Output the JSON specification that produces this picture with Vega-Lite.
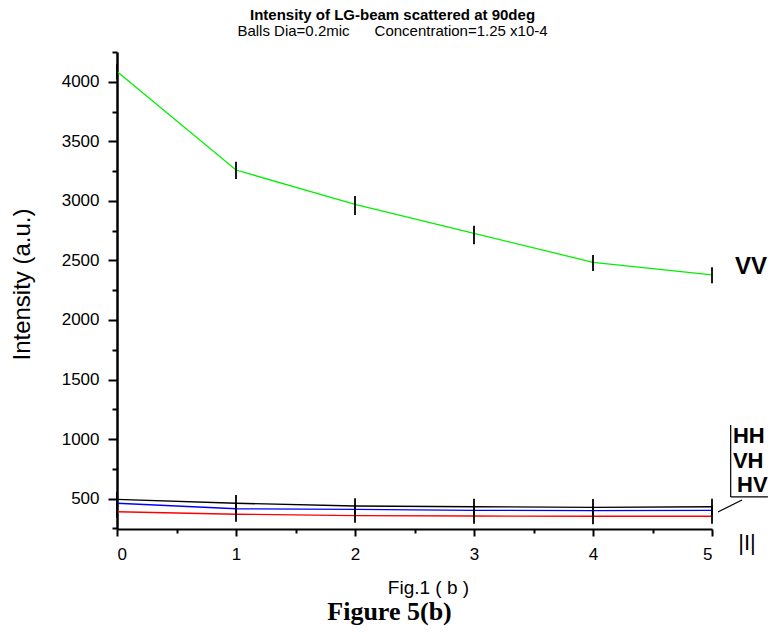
{
  "$schema": "https://vega.github.io/schema/vega-lite/v6.json",
  "autosize": "none",
  "width": 595,
  "height": 477,
  "padding": {"left": 117, "top": 52, "right": 60, "bottom": 103},
  "background": "white",
  "config": {"view": {"stroke": null}, "font": "Liberation Sans", "axis": {"grid": false}},
  "title": {
    "text": "Intensity of LG-beam scattered at 90deg",
    "subtitle": "Balls Dia=0.2mic\u00a0\u00a0\u00a0\u00a0\u00a0\u00a0Concentration=1.25 x10-4",
    "anchor": "middle",
    "dx": -22,
    "offset": 12,
    "font": "Liberation Sans",
    "fontSize": 15,
    "fontWeight": "bold",
    "color": "black",
    "subtitleFont": "Liberation Sans",
    "subtitleFontSize": 15,
    "subtitleColor": "black",
    "subtitlePadding": 1
  },
  "datasets": {
    "pts": [
      {"series": "VV", "x": 0, "y": 4086, "lo": 4021, "hi": 4149},
      {"series": "VV", "x": 1, "y": 3259, "lo": 3184, "hi": 3329},
      {"series": "VV", "x": 2, "y": 2971, "lo": 2881, "hi": 3041},
      {"series": "VV", "x": 3, "y": 2728, "lo": 2635, "hi": 2792},
      {"series": "VV", "x": 4, "y": 2484, "lo": 2411, "hi": 2546},
      {"series": "VV", "x": 5, "y": 2378, "lo": 2308, "hi": 2442},
      {"series": "HH", "x": 0, "y": 494, "lo": 432, "hi": 556},
      {"series": "HH", "x": 1, "y": 461, "lo": 391, "hi": 531},
      {"series": "HH", "x": 2, "y": 438, "lo": 373, "hi": 503},
      {"series": "HH", "x": 3, "y": 432, "lo": 366, "hi": 498},
      {"series": "HH", "x": 4, "y": 427, "lo": 358, "hi": 496},
      {"series": "HH", "x": 5, "y": 432, "lo": 366, "hi": 498},
      {"series": "VH", "x": 0, "y": 461, "lo": 421, "hi": 501},
      {"series": "VH", "x": 1, "y": 415, "lo": 375, "hi": 455},
      {"series": "VH", "x": 2, "y": 410, "lo": 370, "hi": 450},
      {"series": "VH", "x": 3, "y": 402, "lo": 362, "hi": 442},
      {"series": "VH", "x": 4, "y": 399, "lo": 359, "hi": 439},
      {"series": "VH", "x": 5, "y": 402, "lo": 362, "hi": 442},
      {"series": "HV", "x": 0, "y": 390, "lo": 340, "hi": 440},
      {"series": "HV", "x": 1, "y": 369, "lo": 306, "hi": 432},
      {"series": "HV", "x": 2, "y": 357, "lo": 298, "hi": 416},
      {"series": "HV", "x": 3, "y": 354, "lo": 290, "hi": 418},
      {"series": "HV", "x": 4, "y": 352, "lo": 284, "hi": 420},
      {"series": "HV", "x": 5, "y": 352, "lo": 289, "hi": 415}
    ]
  },
  "resolve": {"axis": {"x": "independent", "y": "independent"}},
  "layer": [
    {
      "data": {"name": "pts"},
      "mark": {"type": "line", "strokeWidth": 1.3},
      "encoding": {
        "x": {
          "field": "x", "type": "quantitative",
          "scale": {"domain": [0, 5], "nice": false, "zero": false},
          "axis": {
            "orient": "bottom", "values": [0, 1, 2, 3, 4, 5], "format": "d",
            "labelFontSize": 17, "labelColor": "black", "labelPadding": 10,
            "tickSize": 7, "tickWidth": 2, "tickColor": "black",
            "domainColor": "black", "domainWidth": 2,
            "title": "Fig.1 ( b )", "titleFontSize": 19, "titleFontWeight": "normal", "titleColor": "black",
            "titleX": 311, "titleY": 58, "titleAlign": "center", "titleBaseline": "middle"
          }
        },
        "y": {
          "field": "y", "type": "quantitative",
          "scale": {"domain": [245, 4250], "nice": false, "zero": false},
          "axis": {
            "orient": "left", "values": [500, 1000, 1500, 2000, 2500, 3000, 3500, 4000], "format": "d",
            "labelFontSize": 17, "labelColor": "black", "labelPadding": 9,
            "tickSize": 9, "tickWidth": 2, "tickColor": "black",
            "domainColor": "black", "domainWidth": 2.5,
            "title": "Intensity (a.u.)", "titleFontSize": 24, "titleFontWeight": "normal", "titleColor": "black",
            "titleX": -95, "titleY": 232, "titleAngle": -90, "titleAlign": "center", "titleBaseline": "middle"
          }
        },
        "color": {
          "field": "series", "type": "nominal",
          "scale": {"domain": ["VV", "HH", "VH", "HV"], "range": ["#00f000", "#000000", "#0000ff", "#ff0000"]},
          "legend": null
        }
      }
    },
    {
      "data": {"name": "pts"},
      "mark": {"type": "rule", "color": "black", "strokeWidth": 1.8},
      "encoding": {
        "x": {
          "field": "x", "type": "quantitative",
          "axis": {"orient": "bottom", "values": [0.5, 1.5, 2.5, 3.5, 4.5], "labels": false, "domain": false,
                   "tickSize": 4, "tickWidth": 2, "tickColor": "black", "title": null}
        },
        "y": {
          "field": "lo", "type": "quantitative",
          "axis": {"orient": "left", "values": [250, 750, 1250, 1750, 2250, 2750, 3250, 3750, 4250], "labels": false, "domain": false,
                   "tickSize": 5, "tickWidth": 2, "tickColor": "black", "title": null}
        },
        "y2": {"field": "hi"}
      }
    },
    {
      "data": {"values": [{"t": "VV"}]},
      "mark": {"type": "text", "font": "Liberation Sans", "fontWeight": "bold", "fontSize": 24, "align": "left", "baseline": "middle", "color": "black"},
      "encoding": {
        "x": {"datum": 5.193, "axis": null},
        "y": {"datum": 2445, "axis": null},
        "text": {"field": "t"}
      }
    },
    {
      "data": {"values": [{"t": "HH", "x": 5.176, "y": 1030}, {"t": "VH", "x": 5.176, "y": 815}, {"t": "HV", "x": 5.21, "y": 615}]},
      "mark": {"type": "text", "font": "Liberation Sans", "fontWeight": "bold", "fontSize": 22, "align": "left", "baseline": "middle", "color": "black"},
      "encoding": {
        "x": {"field": "x", "type": "quantitative", "axis": null},
        "y": {"field": "y", "type": "quantitative", "axis": null},
        "text": {"field": "t"}
      }
    },
    {
      "data": {"values": [{}]},
      "mark": {"type": "rule", "color": "black", "strokeWidth": 1.2},
      "encoding": {
        "x": {"datum": 5.157, "axis": null}, "y": {"datum": 1118, "axis": null}, "y2": {"datum": 514}
      }
    },
    {
      "data": {"values": [{}]},
      "mark": {"type": "rule", "color": "black", "strokeWidth": 1.2},
      "encoding": {
        "x": {"datum": 5.157, "axis": null}, "x2": {"datum": 5.47}, "y": {"datum": 514, "axis": null}
      }
    },
    {
      "data": {"values": [{}]},
      "mark": {"type": "rule", "color": "black", "strokeWidth": 1.2},
      "encoding": {
        "x": {"datum": 5.05, "axis": null}, "x2": {"datum": 5.252}, "y": {"datum": 388, "axis": null}, "y2": {"datum": 489}
      }
    },
    {
      "data": {"values": [{}]},
      "mark": {"type": "text", "font": "Liberation Sans", "fontSize": 22, "align": "center", "baseline": "middle", "color": "black", "text": "|I|"},
      "encoding": {
        "x": {"datum": 5.294, "axis": null}, "y": {"datum": 128, "axis": null}
      }
    },
    {
      "data": {"values": [{}]},
      "mark": {"type": "text", "font": "Liberation Serif", "fontWeight": "bold", "fontSize": 26, "align": "center", "baseline": "middle", "color": "black", "text": "Figure 5(b)"},
      "encoding": {
        "x": {"datum": 2.29, "axis": null}, "y": {"datum": -450, "axis": null}
      }
    }
  ]
}
